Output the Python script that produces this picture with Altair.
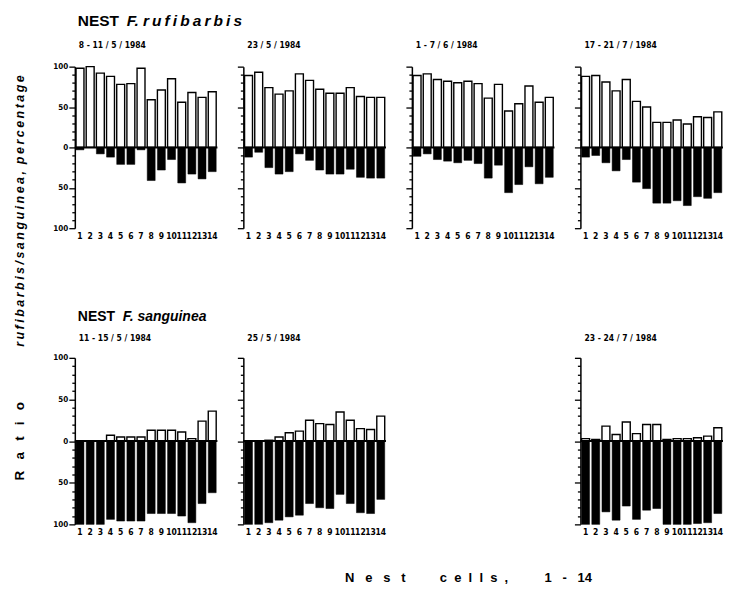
import altair as alt
import pandas as pd

cells = list(range(1, 15))

# NEST F. rufibarbis (top row): % rufibarbis (white, up) and % sanguinea (black, down)
ruf_a = [98, 100, 92, 88, 78, 79, 98, 59, 71, 85, 56, 68, 62, 69]
san_a = [3, 0, 8, 12, 21, 21, 3, 41, 28, 15, 44, 33, 39, 30]
ruf_b = [89, 93, 74, 66, 70, 91, 83, 72, 67, 67, 74, 63, 62, 62]
san_b = [12, 6, 25, 33, 30, 8, 16, 28, 33, 33, 27, 37, 38, 38]
ruf_c = [89, 91, 84, 82, 80, 82, 79, 61, 78, 45, 54, 76, 56, 62]
san_c = [11, 8, 15, 17, 19, 16, 20, 38, 22, 56, 46, 24, 45, 37]
ruf_d = [88, 89, 81, 70, 84, 57, 50, 31, 31, 34, 29, 38, 37, 44]
san_d = [12, 10, 19, 29, 15, 43, 51, 69, 69, 66, 72, 61, 63, 56]

# NEST F. sanguinea (bottom row)
ruf_e = [0, 0, 0, 7, 5, 5, 5, 13, 13, 13, 11, 3, 24, 36]
san_e = [100, 100, 100, 94, 96, 96, 96, 87, 87, 87, 90, 98, 75, 62]
ruf_f = [0, 0, 1, 5, 10, 12, 25, 21, 20, 35, 25, 15, 14, 30]
san_f = [100, 100, 98, 95, 91, 89, 75, 80, 81, 64, 75, 86, 87, 70]
ruf_g = [3, 2, 18, 8, 23, 9, 20, 20, 2, 3, 3, 4, 6, 16]
san_g = [100, 100, 85, 95, 78, 94, 83, 81, 100, 100, 100, 99, 98, 87]

dates = ["8 - 11 / 5 / 1984", "23 / 5 / 1984", "1 - 7 / 6 / 1984", "17 - 21 / 7 / 1984",
         "11 - 15 / 5 / 1984", "25 / 5 / 1984", "23 - 24 / 7 / 1984"]

NARROW = "Liberation Sans Narrow, DejaVu Sans Condensed, Liberation Sans, sans-serif"
BOLD = "Liberation Sans, Arial, sans-serif"
NB = "\u00a0"
TS = "\u2009"

W = 143
H1 = 162
H2 = 167


def spaced(s, sep):
    return sep.join(list(s))


def txt(s, x, y, size, italic=False, angle=0, align="left", font=BOLD):
    kw = dict(text=s, font=font, fontSize=size, fontWeight="bold", color="black",
              align=align, baseline="middle")
    if italic:
        kw["fontStyle"] = "italic"
    if angle:
        kw["angle"] = angle
    return alt.Chart(pd.DataFrame({"t": [s]})).mark_text(**kw).encode(
        x=alt.value(x), y=alt.value(y))


def panel(title, ruf, san, height, first, title_y, extras=()):
    df = pd.DataFrame({"cell": cells, "ruf": ruf, "san": [-v for v in san],
                       "zero": [0] * len(cells)})
    xaxis = alt.Axis(labelAngle=0, domain=False, ticks=False, labelFont=NARROW,
                     labelFontSize=8.5, labelFontWeight="bold", labelColor="black",
                     labelPadding=3, labelOverlap=False, title=None)
    xenc = alt.X("cell:O", title=None,
                 scale=alt.Scale(paddingInner=0.22, paddingOuter=0.12), axis=xaxis)
    yscale = alt.Scale(domain=[-100, 100], nice=False, zero=False)
    yaxis = alt.Axis(values=list(range(-100, 101, 10)),
                     labelExpr="datum.value % 50 === 0 ? format(abs(datum.value), 'd') : ''",
                     labels=first, title=None, domainColor="black", domainWidth=1.5,
                     tickColor="black", tickWidth=1.3,
                     tickSize={"condition": {"test": "datum.value % 50 === 0", "value": 6},
                               "value": 3},
                     labelFont=NARROW, labelFontSize=8, labelFontWeight="bold",
                     labelColor="black", labelPadding=1, grid=False)
    white = alt.Chart(df).mark_bar(fill="white", stroke="black", strokeWidth=1.4).encode(
        x=xenc, y=alt.Y("ruf:Q", scale=yscale, axis=yaxis), y2="zero:Q")
    black = alt.Chart(df).mark_bar(fill="black", stroke="black", strokeWidth=0.5).encode(
        x=xenc, y=alt.Y("san:Q", scale=yscale, axis=yaxis), y2="zero:Q")
    zl = alt.Chart(pd.DataFrame({"z": [0]})).mark_rule(color="black", strokeWidth=2).encode(
        y=alt.Y("z:Q", scale=yscale, axis=yaxis))
    date = txt(title, 4, title_y, 8.5, font=NARROW)
    return alt.layer(white, black, zl, date, *extras).properties(width=W, height=height)


p1 = panel(dates[0], ruf_a, san_a, H1, True, -22, extras=[
    txt("NEST", 3, -46, 15.5),
    txt("F." + NB + spaced("rufibarbis", TS), 52, -46, 15.5, italic=True),
])
p2 = panel(dates[1], ruf_b, san_b, H1, False, -22)
p3 = panel(dates[2], ruf_c, san_c, H1, False, -22)
p4 = panel(dates[3], ruf_d, san_d, H1, False, -22)

q1 = panel(dates[4], ruf_e, san_e, H2, True, -20, extras=[
    txt("NEST", 3, -41, 14),
    txt("F." + NB + "sanguinea", 48, -41, 14, italic=True),
    txt(spaced("Ratio", NB * 3), -55, 123, 13.5, angle=270),
    txt(spaced("rufibarbis/sanguinea,", TS) + NB * 2 + spaced("percentage", TS),
        -55, -11, 12.5, italic=True, angle=270),
])
q2 = panel(dates[5], ruf_f, san_f, H2, False, -20, extras=[
    txt(spaced("Nest", NB * 3), 102, 221, 13),
    txt(spaced("cells,", NB * 2), 197, 221, 13),
    txt("1" + NB * 3 + "-" + NB * 3 + "14", 302, 221, 13),
])
blank = alt.Chart(pd.DataFrame({"a": [0]})).mark_point(opacity=0).encode(
    x=alt.X("a:Q", axis=None), y=alt.Y("a:Q", axis=None)).properties(width=W, height=H2)
q4 = panel(dates[6], ruf_g, san_g, H2, False, -20)

chart = alt.concat(p1, p2, p3, p4, q1, q2, blank, q4, columns=4,
                   spacing={"row": 130, "column": 26}, bounds="flush").configure_view(
    stroke=None).properties(padding={"left": 5, "top": 5, "right": 0, "bottom": 0},
                            background="white")

chart.save("out.html", embed_options={"renderer": "svg", "actions": False})
